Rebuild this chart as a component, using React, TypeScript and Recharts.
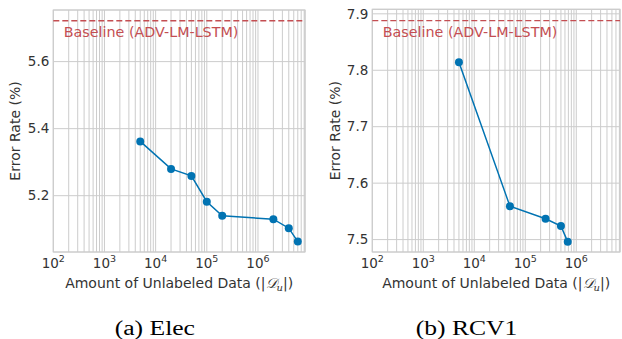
import React from 'react';
import { LineChart, Line, XAxis, YAxis, CartesianGrid, ReferenceLine, ReferenceArea } from 'recharts';

// ---- data ----
const elecSizes = [5000, 20000, 50000, 100000, 200000, 2000000, 4000000, 6000000];
const elecErrors = [5.362, 5.28, 5.259, 5.182, 5.14, 5.13, 5.103, 5.063];
const elecBaseline = 5.722;

const rcv1Sizes = [5000, 50000, 250000, 500000, 680000];
const rcv1Errors = [7.814, 7.559, 7.537, 7.524, 7.496];
const rcv1Baseline = 7.888;

const decades = [100, 1000, 10000, 100000, 1000000];
const minorMultipliers = [1, 2, 3, 4, 5, 6, 7, 8, 9];
const elecYTicks = [5.2, 5.4, 5.6];
const rcv1YTicks = [7.5, 7.6, 7.7, 7.8, 7.9];

const baselineLabel = 'Baseline (ADV-LM-LSTM)';
const yLabel = 'Error Rate (%)';
const xLabelMain = 'Amount of Unlabeled Data (|';
const captions = ['(a) Elec', '(b) RCV1'];

const FONT = '"DejaVu Sans", sans-serif';
const TXT = '#333333';
const GRID = '#cccccc';
const BLUE = '#0173b2';
const RED = '#c44e52';

function toRows(xs: number[], ys: number[]) {
  return xs.map((x, i) => ({ x, y: ys[i] }));
}

function xTicksUpTo(max: number) {
  const out: number[] = [];
  decades.forEach((d) => minorMultipliers.forEach((m) => { if (m * d <= max) out.push(m * d); }));
  return out;
}

const LogTick = (props: any) => {
  const { x, y, payload } = props;
  const v = payload.value;
  const e = Math.round(Math.log10(v));
  if (Math.abs(Math.pow(10, e) - v) > 1e-6 * v) return <g />;
  return (
    <text x={x} y={y} textAnchor="middle" fill={TXT} fontSize={13.5} fontFamily={FONT}>
      <tspan dy="0.71em">10</tspan>
      <tspan fontSize={9.5} dy={-6}>{e}</tspan>
    </text>
  );
};

type PanelProps = {
  sizes: number[];
  errors: number[];
  baseline: number;
  yTicks: number[];
  yDomain: [number, number];
  xMax: number;
  width: number;
  yAxisWidth: number;
  top: number;
  right: number;
  yLabelX: number;
};

function Panel(p: PanelProps) {
  const data = toRows(p.sizes, p.errors);
  const xTicks = xTicksUpTo(p.xMax);
  return (
    <LineChart width={p.width} height={300} data={data} margin={{ top: p.top, right: p.right, left: 0, bottom: 0 }}>
      <CartesianGrid stroke={GRID} strokeWidth={1} />
      <XAxis
        dataKey="x"
        type="number"
        scale="log"
        domain={[100, p.xMax]}
        allowDataOverflow
        ticks={xTicks}
        interval={0}
        tick={<LogTick />}
        tickLine={false}
        tickSize={0}
        tickMargin={6}
        axisLine={false}
        height={48}
        label={{
          content: (lp: any) => {
            const vb = lp.viewBox;
            return (
              <text x={vb.x + vb.width / 2} y={vb.y + 36} textAnchor="middle" fill={TXT} fontSize={14} fontFamily={FONT}>
                {xLabelMain}
                <tspan fontStyle="italic" fontFamily='"DejaVu Serif", serif'>𝒟</tspan>
                <tspan fontSize={10} dy={3} fontStyle="italic" fontFamily='"DejaVu Serif", serif'>u</tspan>
                <tspan dy={-3}>|)</tspan>
              </text>
            );
          },
        }}
      />
      <YAxis
        type="number"
        domain={p.yDomain}
        allowDataOverflow
        ticks={p.yTicks}
        interval={0}
        width={p.yAxisWidth}
        tickLine={false}
        tickSize={0}
        tickMargin={4}
        axisLine={false}
        tick={{ fill: TXT, fontSize: 13.5, fontFamily: FONT }}
        tickFormatter={(v: number) => v.toFixed(1)}
        label={{
          content: (lp: any) => {
            const vb = lp.viewBox;
            const cy = vb.y + vb.height / 2;
            return (
              <text
                x={p.yLabelX}
                y={cy}
                textAnchor="middle"
                dominantBaseline="central"
                transform={`rotate(-90 ${p.yLabelX} ${cy})`}
                fill={TXT}
                fontSize={14}
                fontFamily={FONT}
              >
                {yLabel}
              </text>
            );
          },
        }}
      />
      <ReferenceArea x1={100} x2={p.xMax} y1={p.yDomain[0]} y2={p.yDomain[1]} fill="none" stroke={GRID} strokeWidth={1.2} ifOverflow="visible" />
      <ReferenceLine
        y={p.baseline}
        stroke={RED}
        strokeWidth={1.4}
        strokeDasharray="6 3"
        label={{
          content: (lp: any) => {
            const vb = lp.viewBox;
            return (
              <text x={vb.x + 10.5} y={vb.y + 16} fill={RED} fontSize={14.3} fontFamily={FONT}>
                {baselineLabel}
              </text>
            );
          },
        }}
      />
      <Line
        dataKey="y"
        stroke={BLUE}
        strokeWidth={1.5}
        dot={{ r: 4, fill: BLUE, stroke: BLUE, strokeWidth: 0 }}
        isAnimationActive={false}
      />
    </LineChart>
  );
}

export default function App() {
  return (
    <div style={{ position: 'absolute', left: 0, top: 0, width: 622, height: 339, background: '#fff', overflow: 'hidden' }}>
      <div style={{ position: 'absolute', left: 0, top: 0 }}>
        <Panel
          sizes={elecSizes}
          errors={elecErrors}
          baseline={elecBaseline}
          yTicks={elecYTicks}
          yDomain={[5.032, 5.754]}
          xMax={8300000}
          width={310}
          yAxisWidth={53.3}
          top={10}
          right={5}
          yLabelX={14.5}
        />
      </div>
      <div style={{ position: 'absolute', left: 310, top: 0 }}>
        <Panel
          sizes={rcv1Sizes}
          errors={rcv1Errors}
          baseline={rcv1Baseline}
          yTicks={rcv1YTicks}
          yDomain={[7.478, 7.908]}
          xMax={7200000}
          width={312}
          yAxisWidth={62.3}
          top={9.3}
          right={2}
          yLabelX={25.5}
        />
      </div>
      {captions.map((c, i) => (
        <div
          key={c}
          style={{
            position: 'absolute',
            left: i === 0 ? 0 : 310,
            width: i === 0 ? 310 : 312,
            top: 318,
            textAlign: 'center',
            fontFamily: '"Liberation Serif", serif',
            fontSize: 20,
            lineHeight: '20px',
            color: '#000',
            transform: 'scaleX(1.28)',
            transformOrigin: `${i === 0 ? 155.5 : 154}px 10px`,
          }}
        >
          {c}
        </div>
      ))}
    </div>
  );
}
